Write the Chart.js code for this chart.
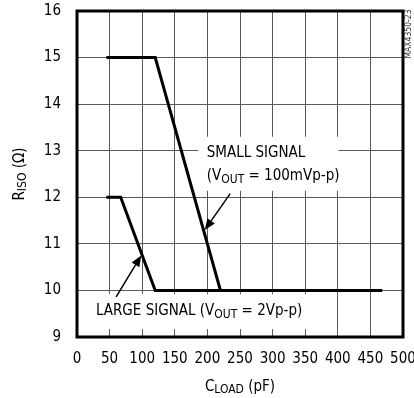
<!DOCTYPE html>
<html>
<head>
<meta charset="utf-8">
<style>
  html, body { margin: 0; padding: 0; background: #fff; }
  #wrap { width: 414px; height: 398px; }
</style>
<script src="https://cdn.jsdelivr.net/npm/chart.js@4.4.0/dist/chart.umd.min.js"></script>
</head>
<body>
<div id="wrap"><canvas id="riso" width="414" height="398"></canvas></div>
<script>
// R_ISO vs C_LOAD curves
const capSmall = [45, 120, 220, 468];
const rSmall   = [15, 15, 10, 10];
const capLarge = [45, 67, 120, 468];
const rLarge   = [12, 12, 10, 10];

const xMin = 0, xMax = 500, xStep = 50;
const yMin = 9, yMax = 16, yStep = 1;

const FONT = "'Liberation Sans Narrow', 'DejaVu Sans Condensed', 'Liberation Sans', sans-serif";

function toPoints(xs, ys) {
    return xs.map(function (x, i) { return { x: x, y: ys[i] }; });
}

// draws text with subscript parts, e.g. [['R'], ['ISO', true], [' (Ω)']]
function richText(ctx, parts, x, y, size, align) {
    let total = 0;
    parts.forEach(function (p) {
        ctx.font = (p[1] ? size * 0.8 : size) + "px " + FONT;
        total += ctx.measureText(p[0]).width;
    });
    let cx = align === 'center' ? x - total / 2 : x;
    ctx.textAlign = 'left';
    ctx.textBaseline = 'middle';
    parts.forEach(function (p) {
        ctx.font = (p[1] ? size * 0.8 : size) + "px " + FONT;
        ctx.fillText(p[0], cx, p[1] ? y + size * 0.22 : y);
        cx += ctx.measureText(p[0]).width;
    });
}

function arrow(ctx, x1, y1, x2, y2) {
    const ang = Math.atan2(y2 - y1, x2 - x1);
    const len = 11, wid = 4.5;
    const bx = x2 - len * Math.cos(ang), by = y2 - len * Math.sin(ang);
    ctx.strokeStyle = '#000';
    ctx.lineWidth = 1.5;
    ctx.beginPath();
    ctx.moveTo(x1, y1);
    ctx.lineTo(bx, by);
    ctx.stroke();
    ctx.fillStyle = '#000';
    ctx.beginPath();
    ctx.moveTo(x2, y2);
    ctx.lineTo(bx + wid * Math.sin(ang), by - wid * Math.cos(ang));
    ctx.lineTo(bx - wid * Math.sin(ang), by + wid * Math.cos(ang));
    ctx.closePath();
    ctx.fill();
}

const notes = {
    id: 'notes',
    beforeDatasetsDraw: function (chart) {
        const ctx = chart.ctx, xs = chart.scales.x, ys = chart.scales.y, a = chart.chartArea;
        ctx.save();
        // white boxes behind the labels
        ctx.fillStyle = '#fff';
        let l = a.left, r = xs.getPixelForValue(362), t = ys.getPixelForValue(9.92), b = ys.getPixelForValue(9.17);
        ctx.fillRect(l, t, r - l, b - t);
        l = xs.getPixelForValue(186); r = xs.getPixelForValue(401);
        t = ys.getPixelForValue(13.3); b = ys.getPixelForValue(12.14);
        ctx.fillRect(l, t, r - l, b - t);

        ctx.fillStyle = '#000';
        richText(ctx, [['LARGE SIGNAL (V'], ['OUT', true], [' = 2Vp-p)']],
            xs.getPixelForValue(29), ys.getPixelForValue(9.55), 15, 'left');
        richText(ctx, [['SMALL SIGNAL']],
            xs.getPixelForValue(199), ys.getPixelForValue(12.95), 15, 'left');
        richText(ctx, [['(V'], ['OUT', true], [' = 100mVp-p)']],
            xs.getPixelForValue(199), ys.getPixelForValue(12.45), 15, 'left');

        // frame
        ctx.strokeStyle = '#000';
        ctx.lineWidth = 3;
        ctx.strokeRect(a.left, a.top, a.right - a.left, a.bottom - a.top);
        ctx.restore();
    },
    afterDatasetsDraw: function (chart) {
        const ctx = chart.ctx, xs = chart.scales.x, ys = chart.scales.y;
        ctx.save();
        arrow(ctx, xs.getPixelForValue(235), ys.getPixelForValue(12.08),
            xs.getPixelForValue(196), ys.getPixelForValue(11.3));
        arrow(ctx, xs.getPixelForValue(60), ys.getPixelForValue(9.86),
            xs.getPixelForValue(98.5), ys.getPixelForValue(10.75));
        ctx.restore();
    },
    afterDraw: function (chart) {
        const ctx = chart.ctx, a = chart.chartArea;
        ctx.save();
        ctx.fillStyle = '#000';
        richText(ctx, [['C'], ['LOAD', true], [' (pF)']], (a.left + a.right) / 2, 387, 15, 'center');
        ctx.translate(20, (a.top + a.bottom) / 2);
        ctx.rotate(-Math.PI / 2);
        richText(ctx, [['R'], ['ISO', true], [' (Ω)']], 0, 0, 15, 'center');
        ctx.restore();

        ctx.save();
        ctx.translate(409, 34);
        ctx.rotate(-Math.PI / 2);
        ctx.fillStyle = '#333';
        ctx.font = "8.5px " + FONT;
        ctx.textAlign = 'center';
        ctx.textBaseline = 'middle';
        ctx.fillText('MAX4350-23', 0, 0);
        ctx.restore();
    }
};

new Chart(document.getElementById('riso'), {
    type: 'line',
    data: {
        datasets: [{
            label: 'SMALL SIGNAL',
            data: toPoints(capSmall, rSmall),
            borderColor: '#000',
            borderWidth: 3,
            pointRadius: 0,
            tension: 0,
            fill: false
        }, {
            label: 'LARGE SIGNAL',
            data: toPoints(capLarge, rLarge),
            borderColor: '#000',
            borderWidth: 3,
            pointRadius: 0,
            tension: 0,
            fill: false
        }]
    },
    options: {
        responsive: false,
        animation: false,
        devicePixelRatio: 1,
        layout: { padding: { top: 11, right: 11, left: 0, bottom: 0 } },
        plugins: { legend: { display: false }, tooltip: { enabled: false } },
        scales: {
            x: {
                type: 'linear',
                min: xMin, max: xMax,
                afterFit: function (s) { s.height = 61; s.paddingLeft = 0; s.paddingRight = 0; },
                ticks: { stepSize: xStep, color: '#000', padding: 13, maxRotation: 0, font: { family: FONT, size: 15 } },
                grid: { color: '#5a5a5a', lineWidth: 1, drawTicks: false },
                border: { display: false }
            },
            y: {
                min: yMin, max: yMax,
                afterFit: function (s) { s.width = 77; s.paddingTop = 0; s.paddingBottom = 0; },
                ticks: { stepSize: yStep, color: '#000', padding: 16, font: { family: FONT, size: 15 } },
                grid: { color: '#5a5a5a', lineWidth: 1, drawTicks: false },
                border: { display: false }
            }
        }
    },
    plugins: [notes]
});
</script>
</body>
</html>
